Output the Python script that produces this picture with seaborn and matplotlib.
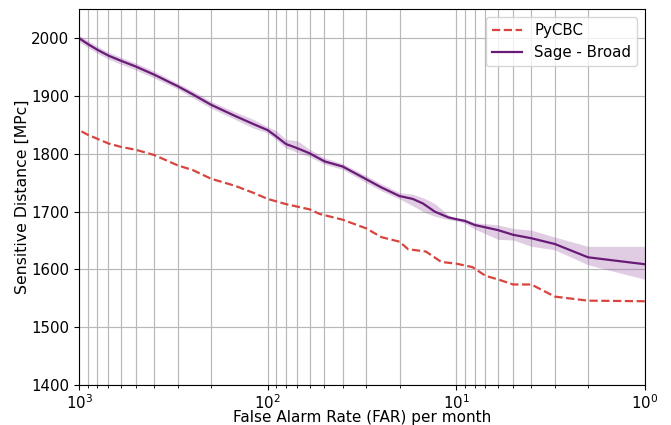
import numpy as np
import pandas as pd
import matplotlib
matplotlib.use("Agg")
import matplotlib.pyplot as plt
import seaborn as sns

# PyCBC sensitive distance vs FAR (per month)
pycbc_far = [1000, 900, 800, 700, 600, 500, 400, 300, 250, 200, 150, 120, 100,
             80, 60, 53, 40, 30, 25, 20, 18, 14.5, 12, 10, 8.2, 7, 5.9, 5, 4,
             3, 2, 1]
pycbc_dist = [1841, 1833, 1826, 1818, 1812, 1807, 1798, 1780, 1772, 1757, 1745,
              1733, 1722, 1713, 1704, 1696, 1686, 1671, 1656, 1648, 1635, 1631,
              1613, 1610, 1604, 1589, 1582, 1574, 1574, 1553, 1546, 1545]

# Sage - Broad: mean and spread
sage_far = [1000, 900, 800, 700, 600, 500, 400, 300, 250, 200, 150, 120, 100,
            90, 80, 70, 60, 50, 40, 30, 25, 20, 17, 15, 13, 11, 10, 9, 8, 6,
            5, 4, 3, 2, 1]
sage_dist = [2000, 1990, 1980, 1970, 1961, 1951, 1937, 1917, 1903, 1885, 1866,
             1852, 1841, 1830, 1817, 1810, 1801, 1787, 1778, 1756, 1742, 1727,
             1722, 1714, 1700, 1690, 1687, 1684, 1677, 1668, 1660, 1654, 1644,
             1621, 1609]
sage_lo = [1994, 1984, 1974, 1964, 1955, 1945, 1931, 1912, 1897, 1879, 1860,
           1845, 1836, 1824, 1810, 1803, 1795, 1782, 1773, 1750, 1736, 1722,
           1710, 1700, 1692, 1686, 1684, 1680, 1670, 1652, 1651, 1640, 1634,
           1608, 1583]
sage_hi = [2005, 1996, 1986, 1976, 1967, 1957, 1943, 1922, 1909, 1891, 1873,
           1860, 1847, 1840, 1825, 1823, 1808, 1793, 1783, 1762, 1748, 1733,
           1730, 1724, 1714, 1694, 1689, 1687, 1681, 1677, 1671, 1668, 1656,
           1640, 1640]

df_pycbc = pd.DataFrame({"far": pycbc_far, "dist": pycbc_dist})
df_sage = pd.DataFrame({"far": sage_far, "dist": sage_dist,
                        "lo": sage_lo, "hi": sage_hi})

fig, ax = plt.subplots(figsize=(6.71, 4.25), dpi=100)
fig.subplots_adjust(left=0.118, right=0.961, bottom=0.094, top=0.978)

sns.lineplot(data=df_pycbc, x="far", y="dist", ax=ax, color="#d9443f",
             linestyle="--", linewidth=1.6, label="PyCBC")
sns.lineplot(data=df_sage, x="far", y="dist", ax=ax, color="#6a1b78",
             linewidth=1.6, label="Sage - Broad")
ax.fill_between(df_sage["far"], df_sage["lo"], df_sage["hi"],
                color="#9b5aa8", alpha=0.3, linewidth=0)

ax.set_xscale("log")
ax.set_xlim(1000, 1)
ax.set_ylim(1400, 2050)
ax.grid(which="both", color="#b8b8b8", linewidth=0.85)
ax.set_axisbelow(True)

ax.set_xlabel("False Alarm Rate (FAR) per month", fontsize=11, labelpad=-1.5)
ax.set_ylabel("Sensitive Distance [MPc]", fontsize=11.3, labelpad=1)
ax.tick_params(labelsize=10.8)
ax.tick_params(axis="x", pad=2.5)
ax.legend(loc="upper right", fontsize=10.8)

plt.savefig("out.png", dpi=100)
